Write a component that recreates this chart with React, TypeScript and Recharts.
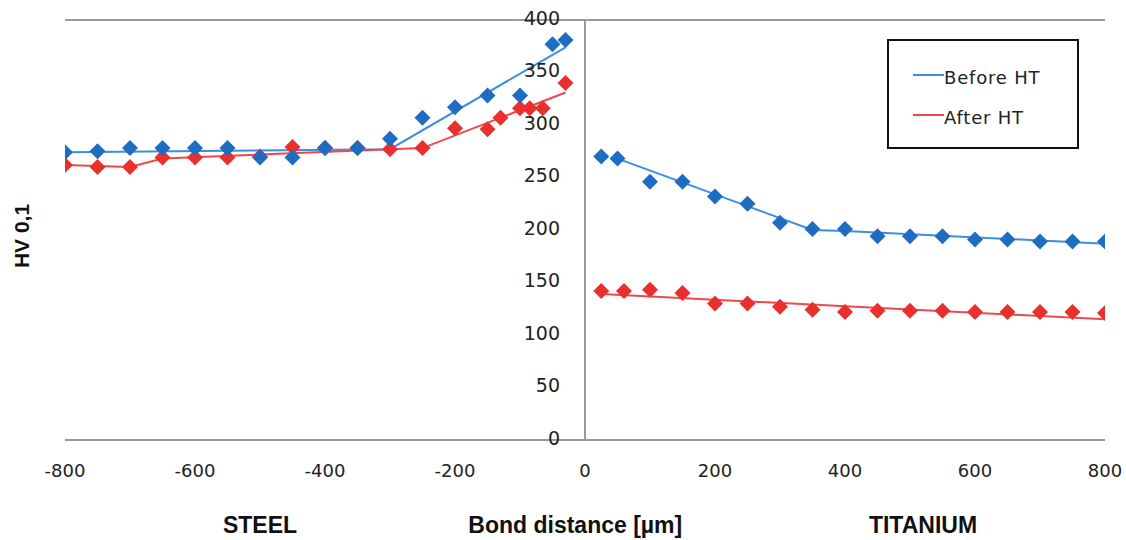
import {
  ComposedChart,
  Line,
  Scatter,
  XAxis,
  YAxis,
  CartesianGrid,
  ReferenceLine,
  ReferenceDot,
  Legend,
} from 'recharts';

const BLUE_DOT = '#1f6dc2';
const BLUE_LINE = '#3b8fe2';
const RED_DOT = '#e8302e';
const RED_LINE = '#f0484a';
const GRID = '#9a9a9a';

// x ticks / y ticks
const xTicks = [-800, -600, -400, -200, 0, 200, 400, 600, 800];
const yTicks = [0, 50, 100, 150, 200, 250, 300, 350, 400];

// steel side measurements
const beforeSteelX = [-800, -750, -700, -650, -600, -550, -500, -450, -400, -350, -300, -250, -200, -150, -100, -50, -30];
const beforeSteelY = [274, 275, 278, 278, 278, 278, 269, 269, 278, 278, 287, 307, 317, 328, 328, 377, 381];
const afterSteelX = [-800, -750, -700, -650, -600, -550, -500, -450, -400, -350, -300, -250, -200, -150, -130, -100, -85, -65, -30];
const afterSteelY = [262, 260, 260, 269, 269, 269, 270, 279, 278, 278, 277, 278, 297, 296, 307, 316, 316, 316, 340];

// titanium side measurements
const beforeTiX = [25, 50, 100, 150, 200, 250, 300, 350, 400, 450, 500, 550, 600, 650, 700, 750, 800];
const beforeTiY = [270, 268, 246, 246, 232, 225, 207, 201, 201, 194, 194, 194, 191, 191, 189, 189, 189];
const afterTiX = [25, 60, 100, 150, 200, 250, 300, 350, 400, 450, 500, 550, 600, 650, 700, 750, 800];
const afterTiY = [142, 142, 143, 140, 130, 130, 127, 124, 122, 123, 123, 123, 122, 122, 122, 122, 121];

// trend lines
const beforeSteelTrendX = [-800, -300, -30];
const beforeSteelTrendY = [274, 277, 374];
const afterSteelTrendX = [-800, -700, -650, -300, -250, -30];
const afterSteelTrendY = [262, 260, 268, 277, 278, 331];
const beforeTiTrendX = [50, 350, 400, 800];
const beforeTiTrendY = [268, 200, 199, 187];
const afterTiTrendX = [25, 800];
const afterTiTrendY = [139, 115];

// region labels under the axis
const regionLabels = [
  { x: -500, text: 'STEEL' },
  { x: -15, text: 'Bond distance [µm]' },
  { x: 520, text: 'TITANIUM' },
];

const legendItems = [
  { name: 'Before HT', color: BLUE_LINE },
  { name: 'After HT', color: RED_LINE },
];

const zip = (xs: number[], ys: number[]) => xs.map((x, i) => ({ x, y: ys[i] }));

const Diamond = (color: string) => (props: any) => {
  const { cx, cy } = props;
  const r = 8;
  return (
    <polygon
      points={`${cx},${cy - r} ${cx + r},${cy} ${cx},${cy + r} ${cx - r},${cy}`}
      fill={color}
    />
  );
};

function LegendBox() {
  return (
    <div
      style={{
        width: 188,
        height: 106,
        border: '2px solid #111',
        background: '#fff',
        fontFamily: '"DejaVu Sans", sans-serif',
        fontSize: 18,
        letterSpacing: 0.8,
        color: '#222',
        boxSizing: 'content-box',
      }}
    >
      {legendItems.map((item, i) => (
        <div
          key={item.name}
          style={{
            position: 'absolute',
            left: 26,
            top: 26 + i * 40,
            display: 'flex',
            alignItems: 'center',
            height: 24,
          }}
        >
          <span
            style={{
              display: 'inline-block',
              width: 31,
              height: 2,
              background: item.color,
              marginTop: -4,
            }}
          />
          <span>{item.name}</span>
        </div>
      ))}
    </div>
  );
}

export default function App() {
  return (
    <div style={{ position: 'absolute', left: 0, top: 0, background: '#fff' }}>
      <ComposedChart
        width={1126}
        height={540}
        margin={{ top: 20, right: 21, left: 0, bottom: 0 }}
      >
        <CartesianGrid vertical={false} stroke={GRID} strokeWidth={2} />
        <XAxis
          type="number"
          dataKey="x"
          domain={[-800, 800]}
          ticks={xTicks}
          height={100}
          tickLine={false}
          tickSize={0}
          tickMargin={24}
          axisLine={{ stroke: GRID, strokeWidth: 2 }}
          tick={{ fontSize: 18, fill: '#222', fontFamily: '"DejaVu Sans", sans-serif' }}
          allowDataOverflow
        />
        <YAxis
          type="number"
          dataKey="y"
          domain={[0, 400]}
          ticks={yTicks}
          width={65}
          tick={false}
          tickLine={false}
          axisLine={false}
          label={{
            content: () => (
              <text
                x={21}
                y={236}
                transform="rotate(-90 21 236)"
                textAnchor="middle"
                dominantBaseline="central"
                fontFamily='"Liberation Sans", Arial, sans-serif'
                fontWeight="bold"
                fontSize={21}
                fill="#111"
              >
                HV 0,1
              </text>
            ),
          }}
        />
        <ReferenceLine x={0} stroke={GRID} strokeWidth={2} />
        {yTicks.map((v) => (
          <ReferenceDot
            key={`yt-${v}`}
            x={0}
            y={v}
            r={1}
            fill="none"
            stroke="none"
            ifOverflow="visible"
            label={{
              value: String(v),
              position: 'left',
              offset: 24,
              dy: -2,
              fontSize: 19,
              fill: '#222',
              fontFamily: '"DejaVu Sans", sans-serif',
            }}
          />
        ))}
        {regionLabels.map((l) => (
          <ReferenceDot
            key={l.text}
            x={l.x}
            y={0}
            r={1}
            fill="none"
            stroke="none"
            ifOverflow="visible"
            label={{
              value: l.text,
              position: 'bottom',
              offset: 76,
              fontSize: 23,
              fontWeight: 'bold',
              fill: '#111',
              fontFamily: '"Liberation Sans", Arial, sans-serif',
            }}
          />
        ))}
        <Line data={zip(beforeSteelTrendX, beforeSteelTrendY)} dataKey="y" stroke={BLUE_LINE} strokeWidth={2} dot={false} isAnimationActive={false} />
        <Line data={zip(afterSteelTrendX, afterSteelTrendY)} dataKey="y" stroke={RED_LINE} strokeWidth={2} dot={false} isAnimationActive={false} />
        <Line data={zip(beforeTiTrendX, beforeTiTrendY)} dataKey="y" stroke={BLUE_LINE} strokeWidth={2} dot={false} isAnimationActive={false} />
        <Line data={zip(afterTiTrendX, afterTiTrendY)} dataKey="y" stroke={RED_LINE} strokeWidth={2} dot={false} isAnimationActive={false} />
        <Scatter data={zip(afterSteelX, afterSteelY)} shape={Diamond(RED_DOT)} isAnimationActive={false} />
        <Scatter data={zip(afterTiX, afterTiY)} shape={Diamond(RED_DOT)} isAnimationActive={false} />
        <Scatter data={zip(beforeSteelX, beforeSteelY)} shape={Diamond(BLUE_DOT)} isAnimationActive={false} />
        <Scatter data={zip(beforeTiX, beforeTiY)} shape={Diamond(BLUE_DOT)} isAnimationActive={false} />
        <Legend
          layout="vertical"
          align="center"
          verticalAlign="middle"
          content={() => <LegendBox />}
          wrapperStyle={{ position: 'absolute', left: 887, top: 39, width: 192, height: 110 }}
        />
      </ComposedChart>
    </div>
  );
}
